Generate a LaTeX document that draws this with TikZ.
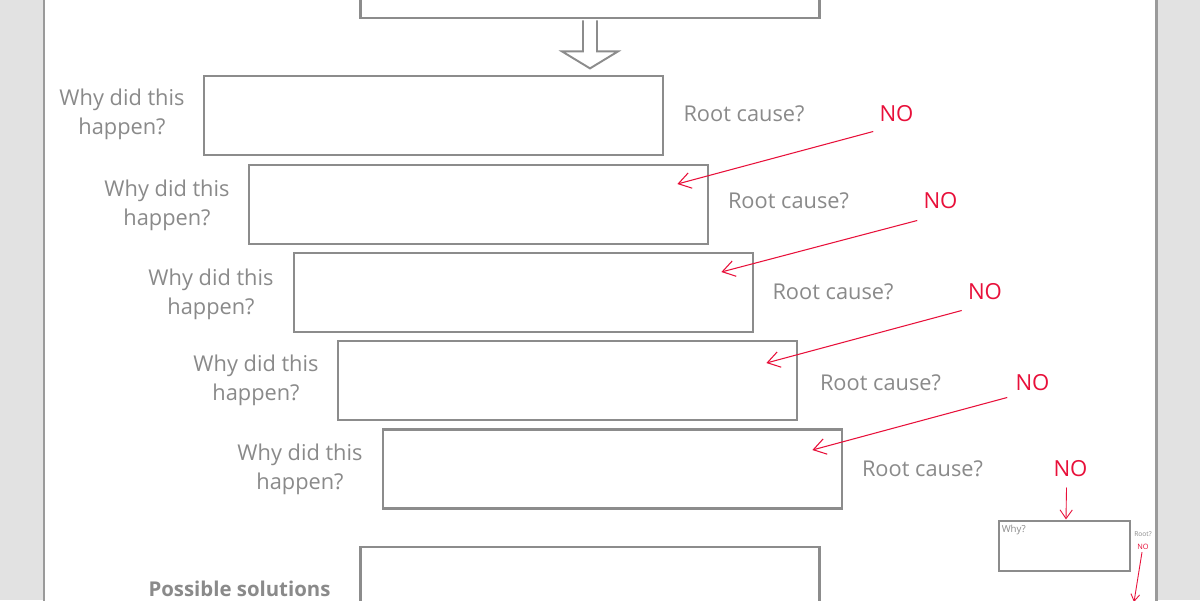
\documentclass[tikz,border=0pt]{standalone}
\usepackage{fontspec}
\setmainfont{Open Sans}
\usetikzlibrary{arrows.meta,calc}
\definecolor{pagegray}{HTML}{E2E2E2}
\definecolor{edgegray}{HTML}{9A9A9A}
\definecolor{boxgray}{HTML}{8C8C8C}
\definecolor{txtgray}{HTML}{8A8A8A}
\definecolor{nored}{HTML}{E8103A}
\tikzset{
  whybox/.style={draw=boxgray, line width=1.6pt, fill=white, minimum width=9.18cm, minimum height=1.58cm, inner sep=0pt},
  whytxt/.style={text=txtgray, align=center, font=\fontsize{12.4}{16.4}\selectfont, inner sep=0pt},
  roottxt/.style={text=txtgray, font=\fontsize{12.4}{15}\selectfont, inner sep=0pt},
  notxt/.style={text=nored, font=\fontsize{12.6}{15}\selectfont, inner sep=0pt},
  noarrow/.style={draw=nored, line width=0.6pt, -{Straight Barb[length=7pt,width=9pt,line width=0.6pt]}},
  hollow/.style={draw=boxgray, line width=1.1pt, fill=white, line join=miter}
}
\begin{document}
\begin{tikzpicture}[x=0.02cm,y=-0.02cm]
\useasboundingbox (0,0) rectangle (1200,600);
\fill[pagegray] (0,0) rectangle (43,600);
\fill[pagegray] (1157,0) rectangle (1200,600);
\fill[white] (43,0) rectangle (1157,600);
\draw[edgegray, line width=1.7pt] (44,-5) -- (44,605);
\draw[edgegray, line width=1.7pt] (1156,-5) -- (1156,605);

% top box
\node[whybox, minimum height=2.0cm] (top) at (590,-32) {};
% boxes
\node[whybox] (b1) at (433.5,115.5) {};
\node[whybox] (b2) at (478.5,204.5) {};
\node[whybox] (b3) at (523.5,292.5) {};
\node[whybox] (b4) at (567.5,380.5) {};
\node[whybox] (b5) at (612.5,469) {};
\node[whybox, minimum height=2.2cm] (sol) at (590,602) {};

% hollow arrow from top to b1
\coordinate (ha) at ($(top.south)+(0,1)$);
\draw[hollow] ($(ha)+(-7,0)$) -- ++(0,31) -- ++(-21,0) -- ($(ha)+(0,48)$) -- ++(28,-17) -- ++(-21,0) -- ++(0,-31);

% why texts
\node[whytxt] (w1) at (122,114) {Why did this\\happen?};
\node[whytxt] (w2) at (167,205) {Why did this\\happen?};
\node[whytxt] (w3) at (211,294) {Why did this\\happen?};
\node[whytxt] (w4) at (256,380) {Why did this\\happen?};
\node[whytxt] (w5) at (300,469) {Why did this\\happen?};

% root cause texts
\node[roottxt] (r1) at (744,114) {Root cause?};
\node[roottxt] (r2) at (788.5,201) {Root cause?};
\node[roottxt] (r3) at (833,292) {Root cause?};
\node[roottxt] (r4) at (880.5,383) {Root cause?};
\node[roottxt] (r5) at (922.5,469) {Root cause?};

% NO texts
\node[notxt] (n1) at (896.5,114) {NO};
\node[notxt] (n2) at (940.5,201) {NO};
\node[notxt] (n3) at (985,292) {NO};
\node[notxt] (n4) at (1032.5,383) {NO};
\node[notxt] (n5) at (1070.5,469) {NO};

% arrow targets
\coordinate (t2) at ($(b2.east)+(-32,-20.5)$);
\coordinate (t3) at ($(b3.east)+(-33,-20.5)$);
\coordinate (t4) at ($(b4.east)+(-32,-17.5)$);
\coordinate (t5) at ($(b5.east)+(-31,-19)$);
\draw[noarrow] ($(n1.south west)+(-6,9)$) -- (t2);
\draw[noarrow] ($(n2.south west)+(-6,11)$) -- (t3);
\draw[noarrow] ($(n3.south west)+(-6,10)$) -- (t4);
\draw[noarrow] ($(n4.south west)+(-8,6)$) -- (t5);

% small box
\node[draw=boxgray, line width=0.7pt, fill=white, minimum width=2.62cm, minimum height=1.0cm, inner sep=0pt] (sb) at (1064.5,546) {};
\node[text=txtgray, font=\fontsize{5.5}{6}\selectfont, anchor=north west, inner sep=0pt] (sw) at ($(sb.north west)+(3,4)$) {Why?};
\draw[noarrow, line width=0.5pt, -{Straight Barb[length=5pt,width=7pt,line width=0.5pt]}] ($(n5.south)+(-4,10)$) -- ($(sb.north)+(1.5,-1)$);
\node[text=txtgray, font=\fontsize{3.8}{4}\selectfont, inner sep=0pt] (sr) at (1143,534) {Root?};
\node[text=nored, font=\fontsize{4.2}{5}\selectfont, inner sep=0pt] (sn) at (1143,547) {NO};
\coordinate (send) at (1134,602);
\draw[draw=nored, line width=0.5pt, -{Straight Barb[length=4pt,width=5pt,line width=0.5pt]}] ($(sn.south)+(-1,2)$) -- (send);

% solutions label
\node[text=txtgray, font=\fontsize{11.6}{14}\selectfont\bfseries, inner sep=0pt] (ps) at (239.5,589) {Possible solutions};
\end{tikzpicture}
\end{document}
